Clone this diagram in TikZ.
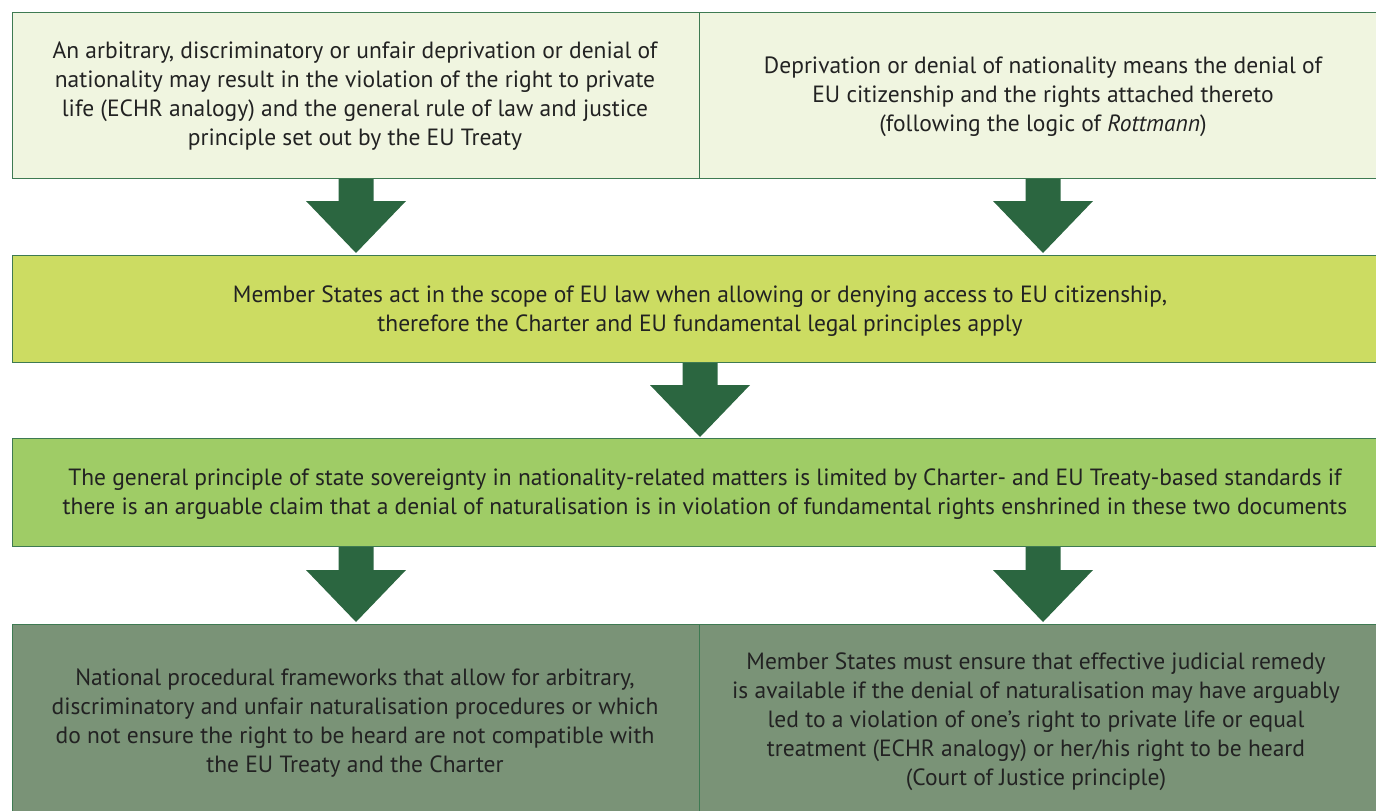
\documentclass[tikz,border=0pt]{standalone}
\usepackage{fontspec}
\setmainfont{PT Sans}
\definecolor{bord}{HTML}{3E7A52}
\definecolor{fillA}{HTML}{F0F5E0}
\definecolor{fillB}{HTML}{CCDC62}
\definecolor{fillC}{HTML}{9FCC66}
\definecolor{fillD}{HTML}{7A9377}
\definecolor{arr}{HTML}{2B6640}
\definecolor{txt}{HTML}{222222}
\tikzset{
  box/.style={draw=bord, line width=1.2pt, anchor=north west, inner sep=0pt},
  lbl/.style={text=txt, align=center, font=\fontsize{23.5}{29}\selectfont, inner sep=0pt},
  blockarrow/.style={fill=arr, draw=none}
}
\newcommand{\blockarrow}[3]{% x, ytop, ybottom
  \fill[blockarrow] (#1-17.5,#2) -- (#1+17.5,#2) -- (#1+17.5,#3-52) -- (#1+50,#3-52) -- (#1,#3) -- (#1-50,#3-52) -- (#1-17.5,#3-52) -- cycle;}
\begin{document}
\begin{tikzpicture}[x=1pt,y=-1pt]
\useasboundingbox (0,0) rectangle (1376,811);
\clip (0,0) rectangle (1376,811);
% row 1
\node[box, fill=fillA, minimum width=687pt, minimum height=166pt] (b1l) at (12,12) {};
\node[box, fill=fillA, minimum width=690pt, minimum height=166pt] (b1r) at (699,12) {};
\node[lbl] (t1l) at (355,96) {An arbitrary, discriminatory or unfair deprivation or denial of\\nationality may result in the violation of the right to private\\life (ECHR analogy) and the general rule of law and justice\\principle set out by the EU Treaty};
\node[lbl] (t1r) at (1043,97) {Deprivation or denial of nationality means the denial of\\EU citizenship and the rights attached thereto\\(following the logic of \textit{Rottmann})};
% row 2
\node[box, fill=fillB, minimum width=1377pt, minimum height=107pt] (b2) at (12,255) {};
\node[lbl] (t2) at (700,311) {Member States act in the scope of EU law when allowing or denying access to EU citizenship,\\therefore the Charter and EU fundamental legal principles apply};
% row 3
\node[box, fill=fillC, minimum width=1377pt, minimum height=108pt] (b3) at (12,438) {};
\node[lbl] (t3) at (705,494) {The general principle of state sovereignty in nationality-related matters is limited by Charter- and EU Treaty-based standards if\\there is an arguable claim that a denial of naturalisation is in violation of fundamental rights enshrined in these two documents};
% row 4
\node[box, fill=fillD, minimum width=687pt, minimum height=200pt] (b4l) at (12,624) {};
\node[box, fill=fillD, minimum width=690pt, minimum height=200pt] (b4r) at (699,624) {};
\node[lbl] (t4l) at (355,723) {National procedural frameworks that allow for arbitrary,\\discriminatory and unfair naturalisation procedures or which\\do not ensure the right to be heard are not compatible with\\the EU Treaty and the Charter};
\node[lbl] (t4r) at (1036,722) {Member States must ensure that effective judicial remedy\\is available if the denial of naturalisation may have arguably\\led to a violation of one's right to private life or equal\\treatment (ECHR analogy) or her/his right to be heard\\(Court of Justice principle)};
% arrows
\blockarrow{356}{179}{253}
\blockarrow{1043}{179}{253}
\blockarrow{700}{363}{437}
\blockarrow{356}{547}{622}
\blockarrow{1043}{547}{622}
\end{tikzpicture}
\end{document}
